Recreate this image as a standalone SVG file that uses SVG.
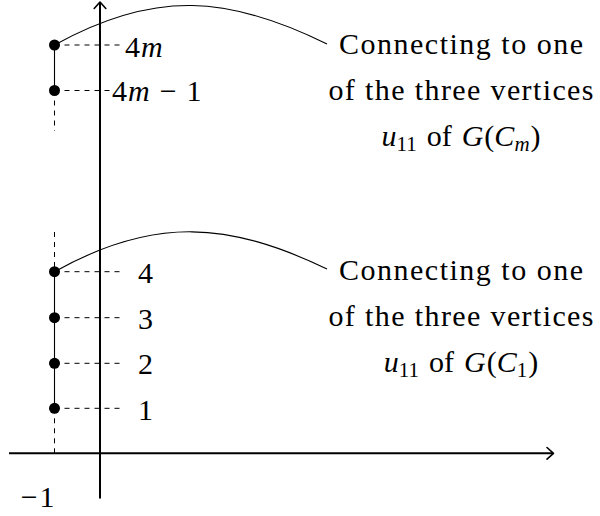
<svg xmlns="http://www.w3.org/2000/svg" width="600" height="516" viewBox="0 0 600 516" font-family="'Liberation Serif', 'Times New Roman', 'DejaVu Serif', serif">
<style>
text{font-family:'Liberation Serif','Times New Roman','DejaVu Serif',serif;font-size:30px;fill:#000}
.it{font-style:italic}
.axis{stroke:#000;stroke-width:2;fill:none}
.arrow{stroke:#000;stroke-width:1.6;fill:none;stroke-linecap:round;stroke-linejoin:round}
.curve{stroke:#000;stroke-width:1.1;fill:none}
.solid{stroke:#000;stroke-width:1.1;fill:none}
.dash{stroke:#000;stroke-width:1;fill:none;stroke-dasharray:5 5}
.dot{fill:#000}
</style>
<rect width="600" height="516" fill="#fff"/>
<g id="connectors">
  <line class="axis" x1="9" y1="453.3" x2="553" y2="453.3"/>
  <path class="arrow" d="M547,447.5 L553.5,453.3 L547,459.1"/>
  <line class="axis" x1="100" y1="498.5" x2="100" y2="2"/>
  <path class="arrow" d="M94.2,8.5 L100,2 L105.8,8.5"/>
  <path class="curve" d="M54.5,45 C155,-11 230,-4 327,44"/>
  <path class="curve" d="M54.5,271.7 C155,215.5 230,222.5 327,269"/>
  <line class="solid" x1="54.5" y1="45" x2="54.5" y2="90.5"/>
  <line class="solid" x1="54.5" y1="271.7" x2="54.5" y2="408.3"/>
  <line class="dash" x1="54.5" y1="90.5" x2="54.5" y2="131"/>
  <line class="dash" x1="54.5" y1="232" x2="54.5" y2="271.7"/>
  <line class="dash" x1="54.5" y1="408.3" x2="54.5" y2="453"/>
  <line class="dash" x1="54.5" y1="45" x2="121" y2="45"/>
  <line class="dash" x1="54.5" y1="90.5" x2="112" y2="90.5"/>
  <line class="dash" x1="54.5" y1="271.7" x2="123" y2="271.7"/>
  <line class="dash" x1="54.5" y1="317.7" x2="123" y2="317.7"/>
  <line class="dash" x1="54.5" y1="363.3" x2="123" y2="363.3"/>
  <line class="dash" x1="54.5" y1="408.3" x2="123" y2="408.3"/>
</g>
<g id="v4m"><circle class="dot" cx="54.5" cy="45" r="5.5"/><text x="125" y="56.5">4<tspan class="it" dx="1">m</tspan></text></g>
<g id="v4m1"><circle class="dot" cx="54.5" cy="90.5" r="5.5"/><text x="112" y="101">4<tspan class="it" dx="1">m</tspan><tspan dx="10">−</tspan><tspan dx="10">1</tspan></text></g>
<g id="v4"><circle class="dot" cx="54.5" cy="271.7" r="5.5"/><text x="138" y="283.3">4</text></g>
<g id="v3"><circle class="dot" cx="54.5" cy="317.7" r="5.5"/><text x="138" y="328.5">3</text></g>
<g id="v2"><circle class="dot" cx="54.5" cy="363.3" r="5.5"/><text x="138" y="373.5">2</text></g>
<g id="v1"><circle class="dot" cx="54.5" cy="408.3" r="5.5"/><text x="138" y="419.5">1</text></g>
<g id="xlabel"><text x="20.7" y="506.7">−<tspan dx="2">1</tspan></text></g>
<g id="noteCm">
  <text x="461" y="54" text-anchor="middle" textLength="244" lengthAdjust="spacing">Connecting to one</text>
  <text x="461" y="100" text-anchor="middle" textLength="265" lengthAdjust="spacing">of the three vertices</text>
  <text x="461" y="146" text-anchor="middle"><tspan class="it">u</tspan><tspan font-size="21" dy="5">11</tspan><tspan dy="-5" dx="10">of</tspan><tspan class="it" dx="10">G</tspan><tspan dx="1">(</tspan><tspan class="it">C</tspan><tspan class="it" font-size="21" dy="5">m</tspan><tspan dy="-5" dx="1">)</tspan></text>
</g>
<g id="noteC1">
  <text x="461" y="280" text-anchor="middle" textLength="244" lengthAdjust="spacing">Connecting to one</text>
  <text x="461" y="326" text-anchor="middle" textLength="265" lengthAdjust="spacing">of the three vertices</text>
  <text x="461" y="372" text-anchor="middle"><tspan class="it">u</tspan><tspan font-size="21" dy="5">11</tspan><tspan dy="-5" dx="10">of</tspan><tspan class="it" dx="10">G</tspan><tspan dx="1">(</tspan><tspan class="it">C</tspan><tspan font-size="21" dy="5">1</tspan><tspan dy="-5" dx="1">)</tspan></text>
</g>
</svg>
